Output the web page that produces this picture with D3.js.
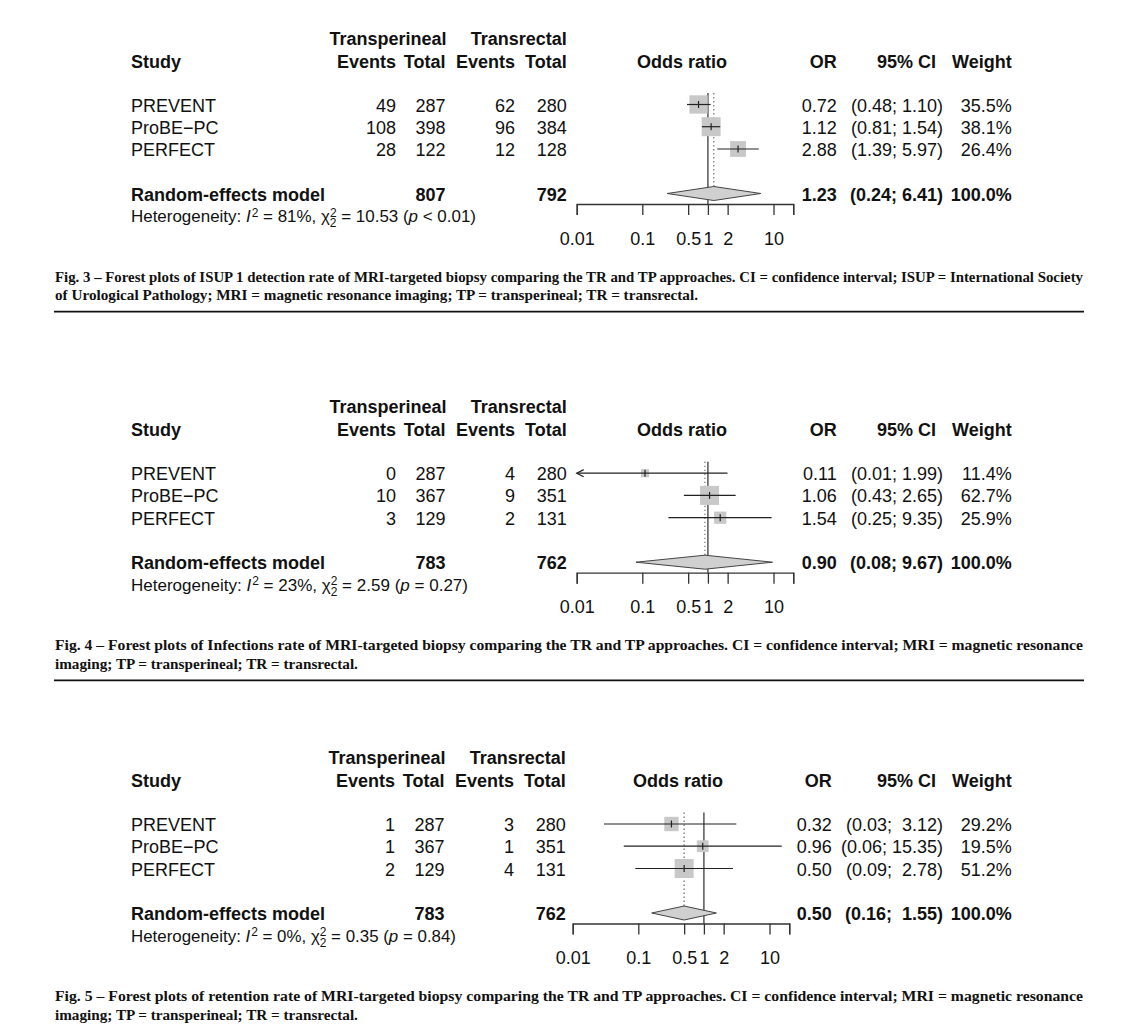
<!DOCTYPE html>
<html><head><meta charset="utf-8">
<script src="https://cdn.jsdelivr.net/npm/d3@7"></script>
<style>
html,body{margin:0;padding:0;background:#fff}
svg text{font-family:"Liberation Sans",Arial,Helvetica,sans-serif;white-space:pre;fill:#111}
svg text.cap{font-family:"Liberation Serif","Times New Roman",serif;font-weight:bold}
</style></head><body>
<svg id="c" width="1122" height="1024"></svg>
<script>
// ---------- data ----------
const studies = ["PREVENT", "ProBE\u2212PC", "PERFECT"];

// Fig. 3 – ISUP 1 detection rate
const tpEvents3 = [49, 108, 28];
const tpTotal3  = [287, 398, 122];
const trEvents3 = [62, 96, 12];
const trTotal3  = [280, 384, 128];
const or3       = [0.72, 1.12, 2.88];
const lo3       = [0.48, 0.81, 1.39];
const hi3       = [1.10, 1.54, 5.97];
const weight3   = [35.5, 38.1, 26.4];
const pooled3   = [1.23, 0.24, 6.41];
const totals3   = [807, 792];
const het3      = ["81%", "10.53", "<", "0.01"];

// Fig. 4 – Infections rate
const tpEvents4 = [0, 10, 3];
const tpTotal4  = [287, 367, 129];
const trEvents4 = [4, 9, 2];
const trTotal4  = [280, 351, 131];
const or4       = [0.11, 1.06, 1.54];
const lo4       = [0.01, 0.43, 0.25];
const hi4       = [1.99, 2.65, 9.35];
const weight4   = [11.4, 62.7, 25.9];
const pooled4   = [0.90, 0.08, 9.67];
const totals4   = [783, 762];
const het4      = ["23%", "2.59", "=", "0.27"];

// Fig. 5 – retention rate
const tpEvents5 = [1, 1, 2];
const tpTotal5  = [287, 367, 129];
const trEvents5 = [3, 1, 4];
const trTotal5  = [280, 351, 131];
const or5       = [0.32, 0.96, 0.50];
const lo5       = [0.03, 0.06, 0.09];
const hi5       = [3.12, 15.35, 2.78];
const weight5   = [29.2, 19.5, 51.2];
const pooled5   = [0.50, 0.16, 1.55];
const totals5   = [783, 762];
const het5      = ["0%", "0.35", "=", "0.84"];

const axisTicks      = [0.01, 0.1, 0.5, 1, 2, 10, 20];
const axisTickLabels = ["0.01", "0.1", "0.5", "1", "2", "10", ""];
const axisDomain     = [0.01, 20];

const captions3 = ["Fig. 3 \u2013 Forest plots of ISUP 1 detection rate of MRI-targeted biopsy comparing the TR and TP approaches. CI = confidence interval; ISUP = International Society",
                   "of Urological Pathology; MRI = magnetic resonance imaging; TP = transperineal; TR = transrectal."];
const captions4 = ["Fig. 4 \u2013 Forest plots of Infections rate of MRI-targeted biopsy comparing the TR and TP approaches. CI = confidence interval; MRI = magnetic resonance",
                   "imaging; TP = transperineal; TR = transrectal."];
const captions5 = ["Fig. 5 \u2013 Forest plots of retention rate of MRI-targeted biopsy comparing the TR and TP approaches. CI = confidence interval; MRI = magnetic resonance",
                   "imaging; TP = transperineal; TR = transrectal."];

// ---------- drawing ----------
const panels = [
  {tpE:tpEvents3,tpT:tpTotal3,trE:trEvents3,trT:trTotal3,or:or3,lo:lo3,hi:hi3,w:weight3,pooled:pooled3,totals:totals3,het:het3,cap:captions3,rule:true},
  {tpE:tpEvents4,tpT:tpTotal4,trE:trEvents4,trT:trTotal4,or:or4,lo:lo4,hi:hi4,w:weight4,pooled:pooled4,totals:totals4,het:het4,cap:captions4,rule:true},
  {tpE:tpEvents5,tpT:tpTotal5,trE:trEvents5,trT:trTotal5,or:or5,lo:lo5,hi:hi5,w:weight5,pooled:pooled5,totals:totals5,het:het5,cap:captions5,rule:false}
];
const layout = [
  {dy:0,     x0:576.7, orR:836.7, tab:0},
  {dy:368.7, x0:576.7, orR:836.7, tab:0},
  {dy:719.5, x0:572.7, orR:831.7, tab:-1}
];

const svg = d3.select("#c");
const FS = 18;
const rowC = [104.5, 126.7, 149];
const poolC = 193.5;
const base = c => c + 7;
const fmt2 = d3.format(".2f");

panels.forEach((p, k) => {
  const L = layout[k];
  const g = svg.append("g").attr("transform", `translate(0,${L.dy})`);
  const x = d3.scaleLog().domain(axisDomain).range([L.x0, L.x0 + 65.6 * Math.log10(axisDomain[1] / axisDomain[0])]);
  const t = L.tab;
  const colEvTP = 396 + t, colToTP = 445.5 + t, colEvTR = 515 + t, colToTR = 566.7 + t;
  const ciR = 943, ciHeadR = 936, wR = 1011.7;

  const txt = (s, xx, yy, anchor, bold, size) => g.append("text").attr("x", xx).attr("y", yy)
      .attr("text-anchor", anchor || "start").attr("font-size", size || FS)
      .attr("font-weight", bold ? "bold" : "normal").text(s);

  // headers
  txt("Transperineal", colToTP + 1, 44.5, "end", true);
  txt("Transrectal", colToTR, 44.5, "end", true);
  txt("Study", 131, 67.7, "start", true);
  txt("Events", colEvTP, 67.7, "end", true);
  txt("Total", colToTP, 67.7, "end", true);
  txt("Events", colEvTR, 67.7, "end", true);
  txt("Total", colToTR, 67.7, "end", true);
  txt("Odds ratio", (x.range()[0] + x.range()[1]) / 2 - 3, 67.7, "middle", true);
  txt("OR", L.orR, 67.7, "end", true);
  txt("95% CI", ciHeadR, 67.7, "end", true);
  txt("Weight", wR, 67.7, "end", true);

  // CI label width padding
  const allHi = p.hi.concat([p.pooled[2]]).map(fmt2);
  const allLo = p.lo.concat([p.pooled[1]]).map(fmt2);
  const hiW = d3.max(allHi, s => s.length), loW = d3.max(allLo, s => s.length);
  const ciLab = (l, h) => "(" + fmt2(l).padStart(loW) + "; " + fmt2(h).padStart(hiW) + ")";
  const maxW = d3.max(p.w);

  // reference lines
  g.append("line").attr("x1", x(1)).attr("x2", x(1)).attr("y1", 93).attr("y2", 204)
    .attr("stroke", "#555").attr("stroke-width", 1.5);
  g.append("line").attr("x1", x(p.pooled[0])).attr("x2", x(p.pooled[0])).attr("y1", 93).attr("y2", poolC)
    .attr("stroke", "#777").attr("stroke-width", 1.3).attr("stroke-dasharray", "1.4,2.6");

  studies.forEach((s, i) => {
    const cy = rowC[i], by = base(cy);
    txt(s, 131, by);
    txt(String(p.tpE[i]), colEvTP, by, "end");
    txt(String(p.tpT[i]), colToTP, by, "end");
    txt(String(p.trE[i]), colEvTR, by, "end");
    txt(String(p.trT[i]), colToTR, by, "end");
    txt(fmt2(p.or[i]), L.orR, by, "end");
    txt(ciLab(p.lo[i], p.hi[i]), ciR, by, "end");
    txt(p.w[i].toFixed(1) + "%", wR, by, "end");

    const sz = 19 * Math.sqrt(p.w[i] / maxW);
    g.append("rect").attr("x", x(p.or[i]) - sz / 2).attr("y", cy - sz / 2)
      .attr("width", sz).attr("height", sz).attr("fill", "#c8c8c8");
    const lo = Math.max(p.lo[i], axisDomain[0]), hi = Math.min(p.hi[i], axisDomain[1]);
    g.append("line").attr("x1", x(lo)).attr("x2", x(hi)).attr("y1", cy).attr("y2", cy)
      .attr("stroke", "#222").attr("stroke-width", 1.2);
    if (p.lo[i] <= axisDomain[0]) {
      const ax = x(axisDomain[0]);
      g.append("path").attr("d", `M${ax + 7},${cy - 3.6}L${ax},${cy}L${ax + 7},${cy + 3.6}`)
        .attr("fill", "none").attr("stroke", "#222").attr("stroke-width", 1.2);
    }
    g.append("line").attr("x1", x(p.or[i])).attr("x2", x(p.or[i])).attr("y1", cy - 3.5).attr("y2", cy + 3.5)
      .attr("stroke", "#222").attr("stroke-width", 1.2);
  });

  // pooled
  const pb = base(poolC);
  txt("Random-effects model", 131, pb, "start", true);
  txt(String(p.totals[0]), colToTP, pb, "end", true);
  txt(String(p.totals[1]), colToTR, pb, "end", true);
  txt(fmt2(p.pooled[0]), L.orR, pb, "end", true);
  txt(ciLab(p.pooled[1], p.pooled[2]), ciR, pb, "end", true);
  txt("100.0%", wR, pb, "end", true);
  const [po, pl, ph] = p.pooled;
  g.append("path").attr("d", `M${x(pl)},${poolC}L${x(po)},${poolC - 7}L${x(ph)},${poolC}L${x(po)},${poolC + 7}Z`)
    .attr("fill", "#d0d0d0").attr("stroke", "#444").attr("stroke-width", 1);

  // heterogeneity
  const ht = g.append("text").attr("x", 131).attr("y", 222).attr("font-size", 17);
  ht.append("tspan").text("Heterogeneity: ");
  ht.append("tspan").attr("font-style", "italic").text("I");
  ht.append("tspan").attr("font-size", 12).attr("dy", -5.5).attr("dx", 1).text("2");
  ht.append("tspan").attr("dy", 5.5).text(" = " + p.het[0] + ", \u03c7");
  ht.append("tspan").attr("font-size", 12).attr("dy", -5.5).text("2");
  ht.append("tspan").attr("font-size", 12).attr("dy", 10.5).attr("dx", -6.7).text("2");
  ht.append("tspan").attr("dy", -5).text(" = " + p.het[1] + " (");
  ht.append("tspan").attr("font-style", "italic").text("p");
  ht.append("tspan").text(" " + p.het[2] + " " + p.het[3] + ")");
  const targetW = [345, 337, 325][k];
  if (ht.node().getComputedTextLength() > targetW) ht.attr("textLength", targetW).attr("lengthAdjust", "spacingAndGlyphs");

  // axis
  const axis = d3.axisBottom(x).tickValues(axisTicks).tickFormat((d, i) => axisTickLabels[i])
    .tickSizeOuter(0).tickSize(11).tickPadding(17);
  const ag = g.append("g").attr("transform", "translate(0,204)").call(axis);
  ag.select(".domain").attr("stroke", "#333").attr("stroke-width", 1.3);
  ag.selectAll(".tick line").attr("stroke", "#333").attr("stroke-width", 1.3);
  ag.selectAll(".tick text").attr("font-size", FS).attr("font-family", '"Liberation Sans",Arial,sans-serif').attr("fill", "#111");

  // caption
  const capY = [281.5, 300];
  p.cap.forEach((line, j) => {
    const tEl = g.append("text").attr("class", "cap").attr("x", 55).attr("y", capY[j])
      .attr("font-size", 15.2).text(line);
    if (j === 0) tEl.attr("textLength", 1028).attr("lengthAdjust", "spacingAndGlyphs");
  });
  if (p.rule) {
    g.append("line").attr("x1", 54).attr("x2", 1084).attr("y1", 311.7).attr("y2", 311.7)
      .attr("stroke", "#111").attr("stroke-width", 1.8);
  }
});
</script>
</body></html>
